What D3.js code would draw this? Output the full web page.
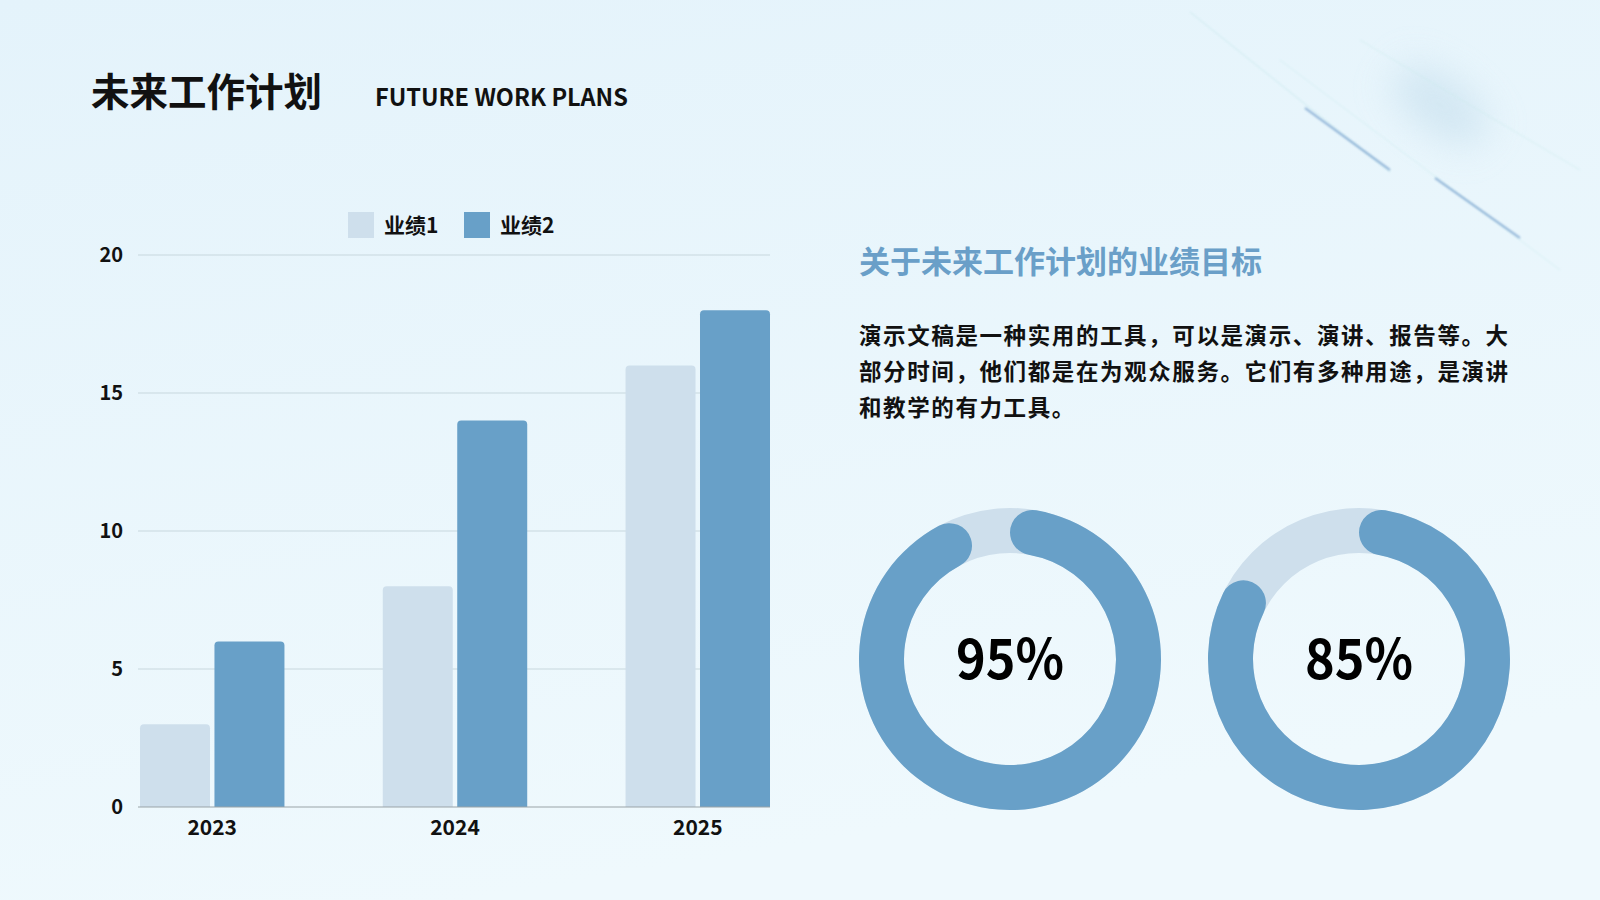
<!DOCTYPE html>
<html>
<head>
<meta charset="utf-8">
<script src="https://cdn.jsdelivr.net/npm/d3@7"></script>
<style>
  html, body { margin: 0; padding: 0; }
  body { width: 1600px; height: 900px; overflow: hidden; font-family: "Noto Sans CJK SC", "Noto Sans", sans-serif; }
</style>
</head>
<body>
<div id="chart"></div>
<script>
// data
var years = ["2023", "2024", "2025"];
var seriesNames = ["业绩1", "业绩2"];
var series1 = [3, 8, 16];
var series2 = [6, 14, 18];
var yTicks = [0, 5, 10, 15, 20];
var ringValues = [0.95, 0.85];
var ringLabels = ["95%", "85%"];

var title = "未来工作计划";
var subTitle = "FUTURE WORK PLANS";
var heading = "关于未来工作计划的业绩目标";
var paragraph = [
    "演示文稿是一种实用的工具，可以是演示、演讲、报告等。大",
    "部分时间，他们都是在为观众服务。它们有多种用途，是演讲",
    "和教学的有力工具。"
];

var W = 1600, H = 900;
var lightC = "#cedfec", darkC = "#68a0c8";

var svg = d3.select("#chart").append("svg")
    .attr("width", W)
    .attr("height", H);

var defs = svg.append("defs");
var bg = defs.append("linearGradient")
    .attr("id", "bg")
    .attr("x1", 0).attr("y1", 0)
    .attr("x2", 0.3).attr("y2", 1);
bg.append("stop").attr("offset", 0).style("stop-color", "#e4f3fb");
bg.append("stop").attr("offset", 1).style("stop-color", "#eff9fd");
defs.append("filter").attr("id", "blur2")
    .attr("x", "-50%").attr("y", "-50%").attr("width", "200%").attr("height", "200%")
    .append("feGaussianBlur").attr("stdDeviation", 1.2);
defs.append("filter").attr("id", "blur20")
    .attr("x", "-100%").attr("y", "-100%").attr("width", "300%").attr("height", "300%")
    .append("feGaussianBlur").attr("stdDeviation", 18);

svg.append("rect").attr("width", W).attr("height", H).style("fill", "url(#bg)");

// decorative streaks, top right
var deco = svg.append("g");
deco.append("ellipse")
    .attr("cx", 1440).attr("cy", 105).attr("rx", 55).attr("ry", 28)
    .attr("transform", "rotate(35,1440,105)")
    .style("fill", "#c9e1ef").style("opacity", 0.7)
    .attr("filter", "url(#blur20)");
var streaks = [
    [1190, 12, 1390, 172, "#bfe6e8", 1, 0.7],
    [1280, 60, 1560, 270, "#c9eaec", 1, 0.6],
    [1360, 40, 1580, 170, "#c9eaec", 1, 0.6],
    [1305, 108, 1390, 170, "#5f8fc3", 1.6, 0.75],
    [1435, 178, 1520, 238, "#5f8fc3", 1.6, 0.75]
];
deco.selectAll("line").data(streaks).enter().append("line")
    .attr("x1", function (d) { return d[0]; })
    .attr("y1", function (d) { return d[1]; })
    .attr("x2", function (d) { return d[2]; })
    .attr("y2", function (d) { return d[3]; })
    .style("stroke", function (d) { return d[4]; })
    .style("stroke-width", function (d) { return d[5]; })
    .style("opacity", function (d) { return d[6]; })
    .attr("filter", "url(#blur2)");

// titles
svg.append("text")
    .attr("x", 91).attr("y", 106)
    .style("font-size", "38.5px").style("font-weight", 700)
    .style("fill", "#111")
    .text(title);
svg.append("text")
    .attr("x", 375).attr("y", 106)
    .style("font-size", "23.5px").style("font-weight", 700)
    .style("fill", "#111")
    .text(subTitle);

// bar chart
var x0 = d3.scaleBand().domain(years).range([140, 770]).paddingInner(0.405).paddingOuter(0);
var x1 = d3.scaleBand().domain([0, 1]).range([0, x0.bandwidth()]).paddingInner(0.06);
var y = d3.scaleLinear().domain([0, 20]).range([807, 255]);

var chart = svg.append("g");
chart.selectAll(".grid").data(yTicks.slice(1)).enter().append("line")
    .attr("class", "grid")
    .attr("x1", 138).attr("x2", 770)
    .attr("y1", function (d) { return y(d); })
    .attr("y2", function (d) { return y(d); })
    .style("stroke", "#c8d7de").style("stroke-width", 1.2);

var yAxis = chart.append("g")
    .attr("transform", "translate(123,0)")
    .call(d3.axisLeft(y).tickValues(yTicks).tickSize(0).tickPadding(0));
yAxis.select(".domain").remove();
yAxis.selectAll("text")
    .style("font-size", "20px").style("font-weight", 700)
    .style("font-family", "Noto Sans CJK SC")
    .style("fill", "#111");

function topRounded(x, yTop, w, h, r) {
    r = Math.min(r, h, w / 2);
    return "M" + x + "," + (yTop + h) +
        "V" + (yTop + r) +
        "Q" + x + "," + yTop + " " + (x + r) + "," + yTop +
        "H" + (x + w - r) +
        "Q" + (x + w) + "," + yTop + " " + (x + w) + "," + (yTop + r) +
        "V" + (yTop + h) + "Z";
}

var groups = chart.selectAll(".grp").data(years).enter().append("g")
    .attr("class", "grp")
    .attr("transform", function (d) { return "translate(" + x0(d) + ",0)"; });
groups.selectAll("path").data(function (d, i) {
        return [{ s: 0, v: series1[i] }, { s: 1, v: series2[i] }];
    })
    .enter().append("path")
    .attr("d", function (d) {
        return topRounded(x1(d.s), y(d.v), x1.bandwidth(), y(0) - y(d.v), 4);
    })
    .style("fill", function (d) { return d.s === 0 ? lightC : darkC; });

chart.append("line")
    .attr("x1", 138).attr("x2", 770)
    .attr("y1", y(0)).attr("y2", y(0))
    .style("stroke", "#9aa3a8").style("stroke-width", 1.2);

var xAxis = chart.append("g")
    .attr("transform", "translate(0," + y(0) + ")")
    .call(d3.axisBottom(x0).tickSize(0).tickPadding(13));
xAxis.select(".domain").remove();
xAxis.selectAll("text")
    .style("font-size", "21px").style("font-weight", 700)
    .style("font-family", "Noto Sans CJK SC")
    .style("fill", "#111");

// legend
var legend = svg.append("g").attr("transform", "translate(348,212)");
var li = legend.selectAll("g").data(seriesNames).enter().append("g")
    .attr("transform", function (d, i) { return "translate(" + (i * 116) + ",0)"; });
li.append("rect")
    .attr("width", 26).attr("height", 26)
    .style("fill", function (d, i) { return i === 0 ? lightC : darkC; });
li.append("text")
    .attr("x", 36).attr("y", 21)
    .style("font-size", "21px").style("font-weight", 700)
    .style("fill", "#111")
    .text(function (d) { return d; });

// right side text
svg.append("text")
    .attr("x", 859).attr("y", 273)
    .style("font-size", "31px").style("font-weight", 700)
    .style("fill", "#6a9fc8")
    .text(heading);
svg.append("g").selectAll("text").data(paragraph).enter().append("text")
    .attr("x", 859)
    .attr("y", function (d, i) { return 344 + i * 36; })
    .style("font-size", "22.5px").style("font-weight", 700)
    .style("letter-spacing", "1.6px")
    .style("fill", "#111")
    .text(function (d) { return d; });

// rings
var ringX = [1010, 1359], ringY = 659;
var rOut = 151, rIn = 106;
var track = d3.arc().innerRadius(rIn).outerRadius(rOut).startAngle(0).endAngle(2 * Math.PI);
var prog = d3.arc().innerRadius(rIn).outerRadius(rOut).cornerRadius((rOut - rIn) / 2);

var rings = svg.selectAll(".ring").data(ringValues).enter().append("g")
    .attr("class", "ring")
    .attr("transform", function (d, i) { return "translate(" + ringX[i] + "," + ringY + ")"; });
rings.append("path").attr("d", track()).style("fill", lightC);
rings.append("path")
    .attr("d", function (d) { return prog({ startAngle: 0, endAngle: d * 2 * Math.PI }); })
    .style("fill", darkC);
rings.append("text")
    .attr("text-anchor", "middle")
    .attr("y", 20)
    .attr("textLength", 108)
    .attr("lengthAdjust", "spacingAndGlyphs")
    .style("font-size", "55px").style("font-weight", 700)
    .style("fill", "#000")
    .text(function (d, i) { return ringLabels[i]; });
</script>
</body>
</html>
